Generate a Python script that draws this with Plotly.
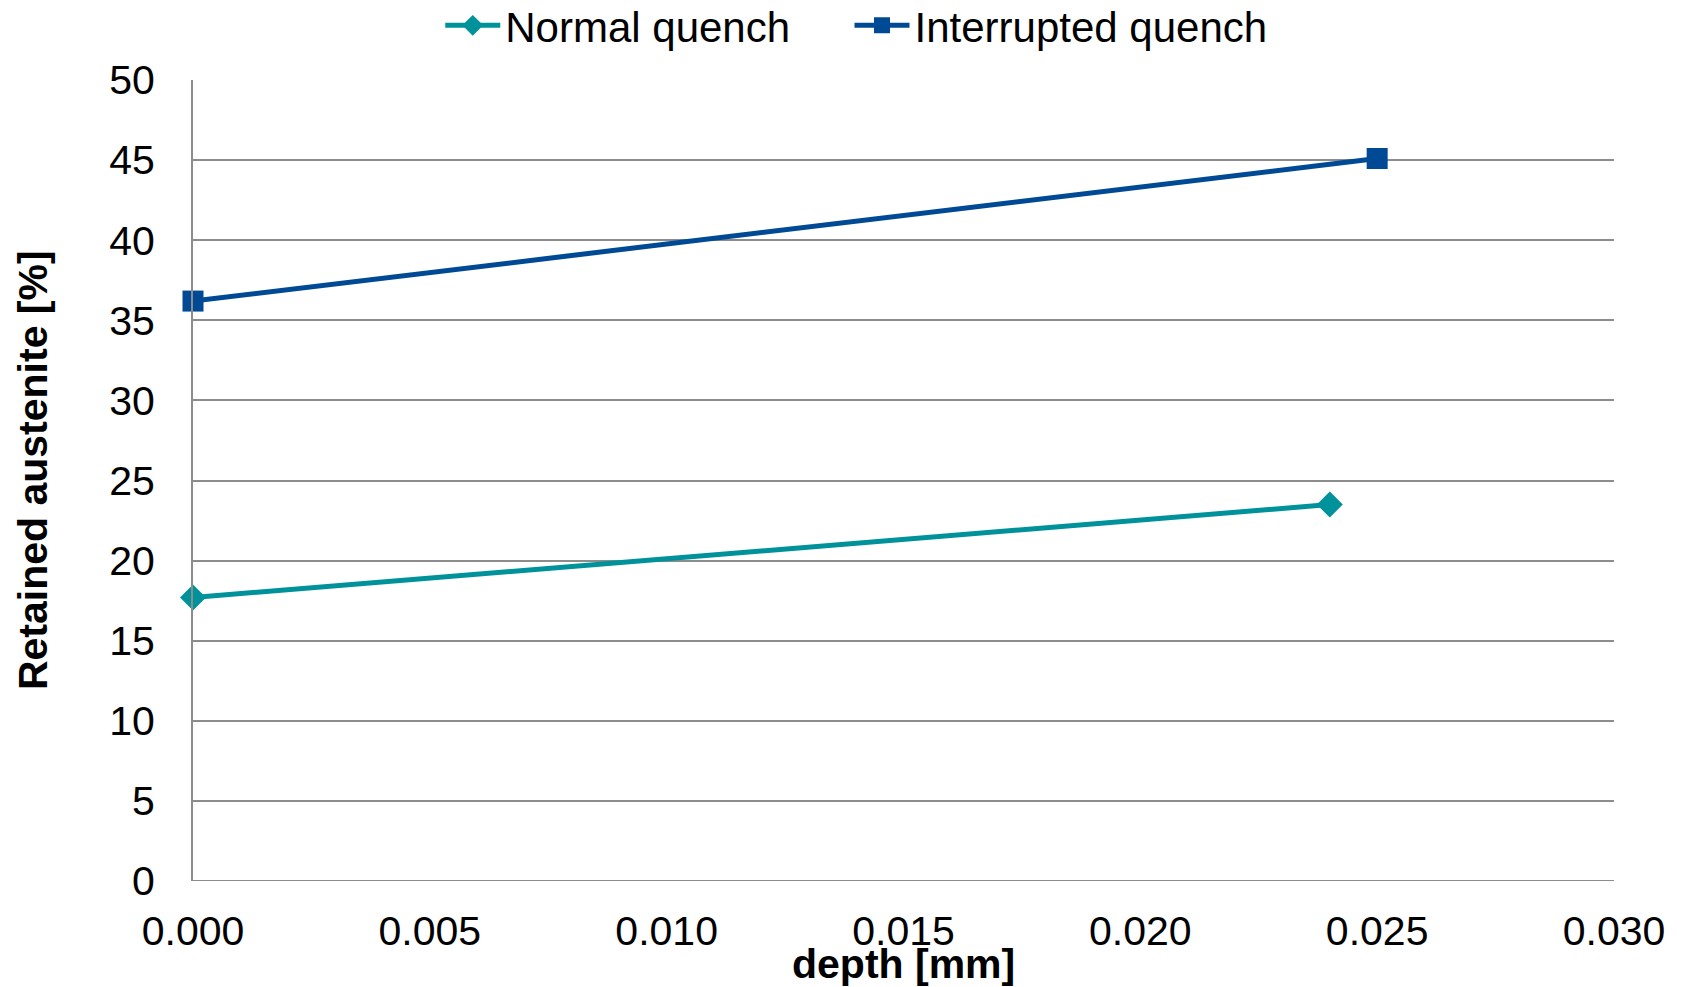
import plotly.graph_objects as go

depth_normal = [0.0, 0.024]
ra_normal = [17.7, 23.5]
depth_interrupted = [0.0, 0.025]
ra_interrupted = [36.2, 45.1]

x_ticks = [0.0, 0.005, 0.010, 0.015, 0.020, 0.025, 0.030]
y_ticks = [0, 5, 10, 15, 20, 25, 30, 35, 40, 45, 50]

TEAL = "#00929A"
NAVY = "#004A95"
GRID = "#8C8C8C"
FONT = "Liberation Sans, Arial, sans-serif"

fig = go.Figure()
fig.add_trace(go.Scatter(
    x=depth_normal, y=ra_normal, mode="lines+markers", name="Normal quench",
    line=dict(color=TEAL, width=5), cliponaxis=False, legend="legend",
    marker=dict(symbol="diamond", size=20, color=TEAL),
))
fig.add_trace(go.Scatter(
    x=depth_interrupted, y=ra_interrupted, mode="lines+markers", name="Interrupted quench",
    line=dict(color=NAVY, width=5), cliponaxis=False, legend="legend2",
    marker=dict(symbol="square", size=21, color=NAVY),
))

legend_common = dict(orientation="h", xanchor="left", y=1.068, yanchor="middle",
                     font=dict(size=42), itemwidth=55, bgcolor="rgba(0,0,0,0)")

fig.update_layout(
    width=1688, height=987,
    margin=dict(l=193, r=74, t=80, b=106, autoexpand=False),
    paper_bgcolor="white", plot_bgcolor="white",
    font=dict(family=FONT, size=41, color="black"),
    showlegend=True,
    legend=dict(x=0.174, **legend_common),
    legend2=dict(x=0.462, **legend_common),
    annotations=[
        dict(text="<b>depth [mm]</b>", x=0.5, xref="paper", y=0, yref="paper",
             yshift=-83, xanchor="center", yanchor="middle", showarrow=False,
             font=dict(size=41, family=FONT)),
        dict(text="<b>Retained austenite [%]</b>", x=0, xref="paper", xshift=-160,
             y=0.513, yref="paper", textangle=-90, xanchor="center", yanchor="middle",
             showarrow=False, font=dict(size=41, family=FONT)),
    ],
)

fig.update_xaxes(
    range=[0, 0.03], tickvals=x_ticks, tickformat=".3f",
    showgrid=False, zeroline=False, showline=False,
    ticks="", ticklabelstandoff=22,
    tickfont=dict(size=41),
)
fig.update_yaxes(
    range=[0, 50], tickvals=y_ticks,
    showgrid=True, gridcolor=GRID, gridwidth=1.5,
    zeroline=False, showline=True, linecolor=GRID, linewidth=2,
    ticks="", ticklabelstandoff=28,
    tickfont=dict(size=41),
)
fig.add_hline(y=0, line=dict(color=GRID, width=2), layer="below")

fig.write_html("out.html")
